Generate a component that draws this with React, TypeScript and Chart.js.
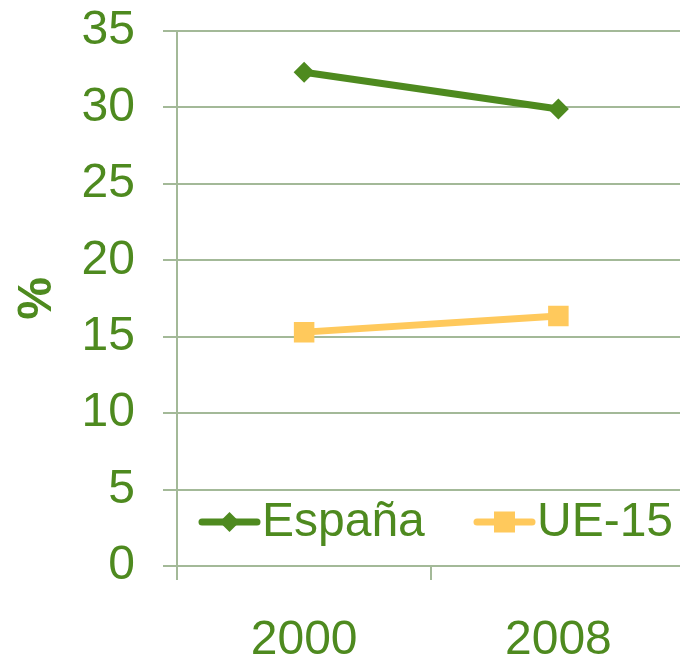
import React, { useEffect, useRef } from "react";
import { Chart, registerables } from "chart.js";

Chart.register(...registerables);

const categories = ["2000", "2008"];
const espana = [32.3, 29.9];
const ue15 = [15.3, 16.35];
const yTicks = [0, 5, 10, 15, 20, 25, 30, 35];

const GREEN = "#4e8a1f";
const YELLOW = "#ffc95c";
const GRID = "#a3b998";
const FONT = "Arial, 'Liberation Sans', sans-serif";

const legendPlugin = {
  id: "inlineLegend",
  afterDraw(chart: any) {
    const ctx = chart.ctx;
    const y = 522;
    const items = [
      { label: "España", color: GREEN, style: "diamond", x0: 202 },
      { label: "UE-15", color: YELLOW, style: "square", x0: 477 },
    ];
    ctx.save();
    items.forEach((it) => {
      ctx.strokeStyle = it.color;
      ctx.fillStyle = it.color;
      ctx.lineWidth = 7;
      ctx.lineCap = "round";
      ctx.beginPath();
      ctx.moveTo(it.x0, y);
      ctx.lineTo(it.x0 + 55, y);
      ctx.stroke();
      const cx = it.x0 + 27.5;
      if (it.style === "diamond") {
        ctx.beginPath();
        ctx.moveTo(cx, y - 10);
        ctx.lineTo(cx + 10, y);
        ctx.lineTo(cx, y + 10);
        ctx.lineTo(cx - 10, y);
        ctx.closePath();
        ctx.fill();
      } else {
        ctx.fillRect(cx - 10.5, y - 10.5, 21, 21);
      }
      ctx.fillStyle = GREEN;
      ctx.font = `48px ${FONT}`;
      ctx.textBaseline = "middle";
      ctx.textAlign = "left";
      ctx.fillText(it.label, it.x0 + 60, y + 1);
    });
    ctx.restore();
  },
};

export default function App() {
  const ref = useRef<HTMLCanvasElement>(null);
  useEffect(() => {
    if (!ref.current) return;
    const chart = new Chart(ref.current, {
      type: "line",
      data: {
        labels: categories,
        datasets: [
          {
            label: "España",
            data: espana,
            borderColor: GREEN,
            backgroundColor: GREEN,
            borderWidth: 7,
            pointStyle: "rectRot",
            pointRadius: 10.5,
            pointBorderWidth: 0,
            pointBackgroundColor: GREEN,
          },
          {
            label: "UE-15",
            data: ue15,
            borderColor: YELLOW,
            backgroundColor: YELLOW,
            borderWidth: 7,
            pointStyle: "rect",
            pointRadius: 14.5,
            pointBorderWidth: 0,
            pointBackgroundColor: YELLOW,
          },
        ],
      },
      options: {
        animation: false,
        responsive: false,
        maintainAspectRatio: false,
        layout: { padding: { top: 31, right: 7, left: 0, bottom: 0 } },
        plugins: { legend: { display: false }, tooltip: { enabled: false } },
        scales: {
          x: {
            offset: true,
            grid: {
              offset: true,
              drawOnChartArea: false,
              drawTicks: true,
              tickLength: 14,
              color: GRID,
              lineWidth: 2,
            },
            border: { display: false },
            ticks: {
              color: GREEN,
              font: { size: 48, family: FONT },
              padding: 32,
            },
            afterFit: (s: any) => {
              s.height = 90;
              s.paddingLeft = 0;
              s.paddingRight = 0;
            },
          },
          y: {
            min: 0,
            max: 35,
            afterBuildTicks: (s: any) => {
              s.ticks = yTicks.map((v) => ({ value: v }));
            },
            grid: {
              color: GRID,
              lineWidth: 2,
              tickLength: 14,
              drawTicks: true,
            },
            border: { display: true, color: GRID, width: 2 },
            ticks: {
              color: GREEN,
              font: { size: 48, family: FONT },
              padding: 28,
            },
            title: {
              display: true,
              text: "%",
              color: GREEN,
              font: { size: 48, weight: "bold", family: FONT },
              padding: { top: 9, bottom: 0 },
            },
            afterFit: (s: any) => {
              s.width = 177;
              s.paddingTop = 0;
              s.paddingBottom = 0;
            },
          },
        },
      },
      plugins: [legendPlugin],
    } as any);
    return () => chart.destroy();
  }, []);
  return (
    <div
      style={{
        position: "absolute",
        left: 0,
        top: 0,
        width: 680,
        height: 656,
        overflow: "hidden",
        background: "#fff",
      }}
    >
      <canvas ref={ref} width={700} height={656} style={{ display: "block" }} />
    </div>
  );
}
